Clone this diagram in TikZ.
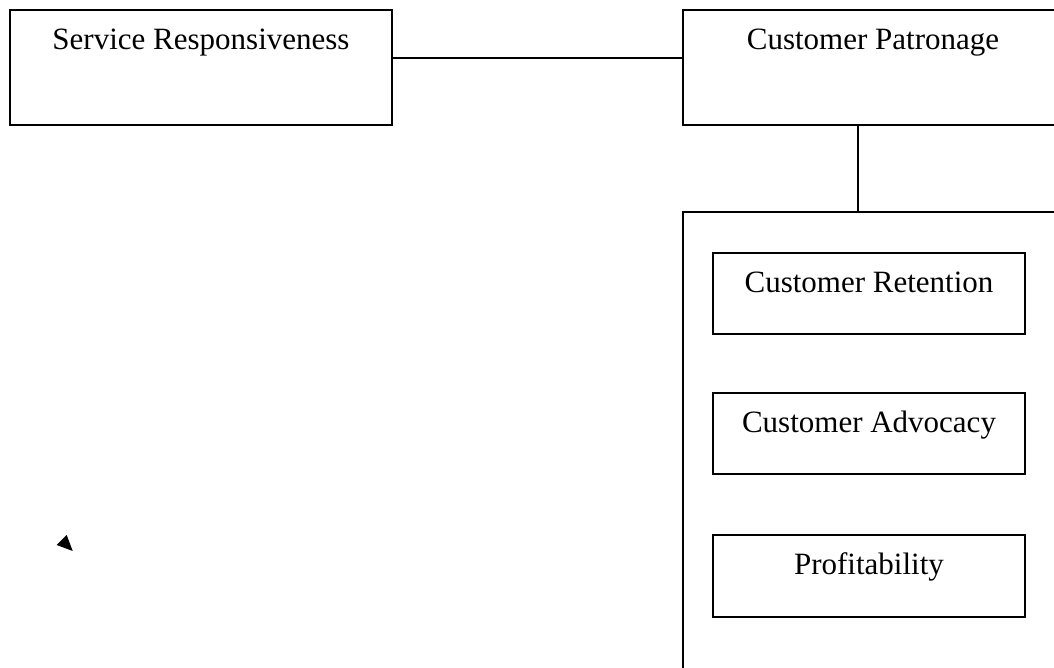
\documentclass[tikz,border=0pt]{standalone}
\usepackage{fontspec}
\setmainfont{Liberation Serif}
\begin{document}
\begin{tikzpicture}[x=1pt,y=-1pt,
  box/.style={draw=black,line width=1.8pt,rectangle,inner sep=0pt},
  lbl/.style={anchor=base,inner sep=0pt,font=\fontsize{31}{37}\selectfont},
  conn/.style={draw=black,line width=1.8pt}]
\useasboundingbox (0,0) rectangle (1054,667);
\clip (0,0) rectangle (1054,667);
% top boxes
\node[box,minimum width=382pt,minimum height=115pt] (sr) at (201,67.5) {};
\node[lbl] (srt) at ([yshift=-40pt]sr.north) {Service Responsiveness};
\node[box,minimum width=380pt,minimum height=115pt] (cp) at (873,67.5) {};
\node[lbl] (cpt) at ([yshift=-40pt]cp.north) {Customer Patronage};
% big container box (runs off the page)
\node[box,minimum width=380pt,minimum height=500pt] (big) at (873,462) {};
% inner boxes
\node[box,minimum width=312pt,minimum height=81pt] (cr) at (869,293.5) {};
\node[lbl] (crt) at ([yshift=-40pt]cr.north) {Customer Retention};
\node[box,minimum width=312pt,minimum height=81pt] (ca) at (869,433.5) {};
\node[lbl] (cat) at ([yshift=-40pt]ca.north) {Customer Advocacy};
\node[box,minimum width=312pt,minimum height=82pt] (pf) at (869,576) {};
\node[lbl] (pft) at ([yshift=-40pt]pf.north) {Profitability};
% connectors
\draw[conn] ([yshift=9.5pt]sr.east) -- ([yshift=9.5pt]cp.west);
\draw[conn] ([xshift=-15pt]cp.south) -- ([xshift=-15pt]cp.south |- big.north);
% stray arrowhead
\fill[black] (66.7,535) -- (56.7,545) -- (72.7,551) -- cycle;
\end{tikzpicture}
\end{document}
